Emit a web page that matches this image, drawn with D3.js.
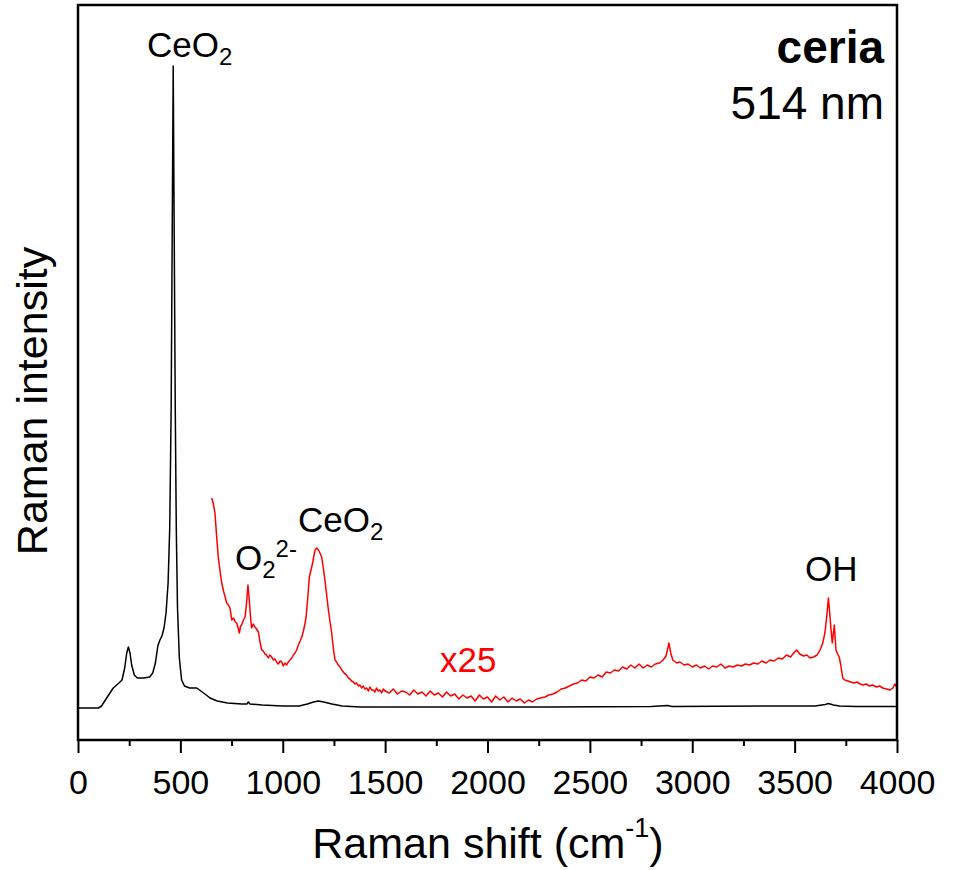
<!DOCTYPE html>
<meta charset="utf-8">
<style>

body {
	margin: 0;
	background: #fff;
}

svg {
	font-family: "Liberation Sans", Arial, sans-serif;
}

.frame {
	fill: none;
	stroke: #000;
	stroke-width: 2.5;
}

.tick line {
	stroke: #000;
	stroke-width: 2;
}

.spectrum {
	fill: none;
	stroke-width: 1.5;
	stroke-linejoin: round;
}

</style>
<svg width="953" height="870"></svg>
<script src="https://d3js.org/d3.v7.min.js"></script>
<script>

	// x axis ticks (Raman shift, cm-1)
	var majorTicks = [0, 500, 1000, 1500, 2000, 2500, 3000, 3500, 4000];
	var minorTicks = [250, 750, 1250, 1750, 2250, 2750, 3250, 3750];

	// raw spectrum, [shift, intensity] (a.u.)
	var ceriaRaw = [
		[0, 0], [100, 0], [115, 2], [140, 10], [172, 20], [200, 25], [215, 28],
		[228, 40], [238, 55], [246, 61], [254, 55], [262, 43], [275, 33], [290, 30],
		[320, 30], [350, 31], [365, 35], [378, 45], [390, 62], [400, 68], [410, 72],
		[420, 80], [430, 95], [440, 125], [448, 180], [455, 300], [460, 470], [465, 642],
		[470, 470], [475, 300], [480, 180], [486, 100], [495, 50], [506, 28], [520, 22],
		[545, 20], [580, 20], [600, 17], [620, 14], [645, 10], [680, 7], [730, 5],
		[800, 4], [825, 4], [832, 6], [840, 4], [900, 3], [1000, 2], [1080, 2],
		[1120, 4], [1150, 6], [1175, 7], [1200, 6], [1240, 4], [1290, 2], [1380, 1],
		[1600, 1], [2000, 1], [2300, 1], [2800, 1.5], [2880, 2.5], [2900, 1.5],
		[3400, 2], [3600, 2], [3650, 3.5], [3665, 4.5], [3690, 3], [3720, 2],
		[3800, 1.5], [4000, 1.5]
	];

	// same spectrum multiplied by 25, [shift, intensity] (a.u.)
	var ceriaX25 = [
		[653, 210], [660, 205], [669, 195], [677, 172], [685, 151], [693, 138], [702, 125],
		[712, 116], [720, 110], [726, 105], [735, 103], [742, 100], [747, 94], [751, 88],
		[760, 90], [768, 86], [775, 85], [782, 80], [788, 75], [794, 82], [799, 83],
		[808, 88], [816, 91], [823, 104], [830, 123], [835, 112], [840, 98], [844, 88],
		[848, 80], [856, 84], [864, 81], [872, 79], [881, 76], [889, 66], [897, 58],
		[905, 57], [913, 54], [921, 53], [929, 50], [937, 53], [946, 51], [954, 48],
		[962, 49], [970, 46], [978, 44], [987, 47], [995, 46], [1003, 42], [1011, 45],
		[1019, 43], [1027, 46], [1036, 48], [1044, 50], [1052, 53], [1060, 55], [1068, 58],
		[1076, 63], [1085, 67], [1093, 71], [1101, 77], [1108, 84], [1114, 91], [1122, 110],
		[1130, 131], [1138, 138], [1146, 145], [1152, 152], [1158, 158], [1166, 160],
		[1174, 158], [1182, 155], [1190, 151], [1198, 140], [1206, 128], [1215, 112],
		[1223, 98], [1231, 86], [1239, 75], [1247, 60], [1255, 48], [1263, 46], [1271, 43],
		[1280, 41], [1288, 38], [1296, 36], [1304, 34], [1312, 33], [1320, 30], [1328, 29],
		[1336, 27], [1345, 26], [1353, 24], [1361, 25], [1369, 22], [1377, 23], [1385, 20],
		[1393, 22], [1401, 19], [1410, 20], [1418, 17], [1426, 21], [1434, 18], [1442, 18],
		[1450, 16], [1458, 20], [1466, 17], [1475, 18], [1483, 15], [1491, 19], [1500, 17],
		[1520, 15], [1540, 19], [1560, 14], [1580, 17], [1600, 16], [1620, 13], [1640, 18],
		[1660, 14], [1680, 16], [1700, 12], [1720, 17], [1740, 13], [1760, 15], [1780, 11],
		[1800, 16], [1820, 12], [1840, 14], [1860, 9], [1880, 13], [1900, 10], [1920, 12],
		[1940, 7], [1960, 13], [1980, 9], [2000, 11], [2020, 6], [2040, 12], [2060, 8],
		[2080, 11], [2100, 6], [2120, 10], [2140, 7], [2160, 9], [2180, 5], [2200, 8],
		[2220, 6], [2240, 9], [2260, 10], [2280, 11], [2300, 13], [2320, 14], [2340, 16],
		[2360, 19], [2380, 20], [2400, 22], [2420, 24], [2440, 25], [2460, 28], [2480, 27],
		[2500, 31], [2520, 30], [2540, 33], [2560, 31], [2580, 36], [2600, 35], [2620, 38],
		[2640, 37], [2660, 41], [2680, 39], [2700, 43], [2720, 40], [2740, 44], [2760, 40],
		[2780, 43], [2800, 41], [2820, 44], [2840, 45], [2858, 48], [2872, 52], [2886, 65],
		[2895, 55], [2905, 48], [2924, 45], [2940, 46], [2960, 43], [2980, 44], [3000, 41],
		[3020, 43], [3040, 40], [3060, 42], [3080, 39], [3100, 42], [3120, 41], [3140, 44],
		[3160, 40], [3180, 42], [3200, 41], [3220, 43], [3240, 42], [3260, 44], [3280, 43],
		[3300, 45], [3320, 44], [3340, 47], [3360, 45], [3380, 48], [3400, 47], [3420, 50],
		[3440, 49], [3460, 53], [3480, 51], [3500, 56], [3510, 58], [3525, 54], [3543, 52],
		[3560, 53], [3575, 50], [3592, 51], [3610, 53], [3624, 58], [3636, 64], [3648, 75],
		[3657, 92], [3665, 110], [3671, 96], [3678, 78], [3684, 65], [3690, 76], [3694, 83],
		[3698, 70], [3702, 58], [3710, 54], [3718, 51], [3726, 42], [3735, 30], [3745, 28],
		[3760, 27], [3775, 26], [3790, 25], [3805, 26], [3820, 24], [3835, 23], [3850, 24],
		[3865, 22], [3880, 23], [3900, 21], [3915, 22], [3930, 20], [3950, 19], [3966, 18],
		[3980, 20], [3990, 24], [4000, 20]
	];

	var svg = d3.select("svg"),
		margin = {top: 5, right: 56, bottom: 130, left: 78},
		width = +svg.attr("width") - margin.left - margin.right,
		height = +svg.attr("height") - margin.top - margin.bottom;

	var x = d3.scaleLinear()
		.domain([0, 4000])
		.range([0, width]);

	var y = d3.scaleLinear()
		.domain([-32, 703])
		.range([height, 0]);

	var line = d3.line()
		.x(function(d) { return x(d[0]); })
		.y(function(d) { return y(d[1]); });

	var g = svg.append("g")
		.attr("transform", "translate(" + margin.left + "," + margin.top + ")");

	// spectra
	g.append("path")
		.datum(ceriaRaw)
		.attr("class", "spectrum")
		.attr("stroke", "#000")
		.attr("d", line);

	g.append("path")
		.datum(ceriaX25)
		.attr("class", "spectrum")
		.attr("stroke", "#ff0000")
		.attr("d", line);

	// bottom axis: major ticks with labels, minor ticks without
	g.append("g")
		.attr("transform", "translate(0," + height + ")")
		.call(d3.axisBottom(x).tickValues(minorTicks).tickSize(6).tickFormat(""))
		.call(function(a) { a.select(".domain").remove(); });

	var xAxis = g.append("g")
		.attr("transform", "translate(0," + height + ")")
		.call(d3.axisBottom(x).tickValues(majorTicks).tickSize(13).tickPadding(17).tickFormat(d3.format("d")));
	xAxis.select(".domain").remove();
	xAxis.selectAll("text")
		.attr("fill", "#000")
		.style("font-size", "34px");

	g.append("rect")
		.attr("class", "frame")
		.attr("width", width)
		.attr("height", height);

	// axis titles
	var xTitle = svg.append("text")
		.attr("x", 488)
		.attr("y", 858)
		.attr("text-anchor", "middle")
		.style("font-size", "43px");
	xTitle.append("tspan").text("Raman shift (cm");
	xTitle.append("tspan").attr("dy", -21).style("font-size", "27px").text("-1");
	xTitle.append("tspan").attr("dy", 21).text(")");

	svg.append("text")
		.attr("transform", "translate(47,401) rotate(-90)")
		.attr("text-anchor", "middle")
		.style("font-size", "43px")
		.text("Raman intensity");

	// sample info
	svg.append("text")
		.attr("x", 884)
		.attr("y", 63)
		.attr("text-anchor", "end")
		.style("font-size", "46px")
		.style("font-weight", "bold")
		.text("ceria");

	svg.append("text")
		.attr("x", 884)
		.attr("y", 119)
		.attr("text-anchor", "end")
		.style("font-size", "46px")
		.text("514 nm");

	// peak labels
	function chem(px, py, main, sub, sup, color) {
		var t = svg.append("text")
			.attr("x", px)
			.attr("y", py)
			.attr("fill", color || "#000")
			.style("font-size", "35px");
		t.append("tspan").text(main);
		if (sub) t.append("tspan").attr("dy", 8).style("font-size", "24px").text(sub);
		if (sup) t.append("tspan").attr("dy", -21).style("font-size", "24px").text(sup);
		return t;
	}

	chem(147, 57, "CeO", "2");
	chem(235, 570, "O", "2", "2-");
	chem(298, 532, "CeO", "2");
	chem(805, 581, "OH");
	chem(440, 672, "x25", null, null, "#ff0000");

</script>
